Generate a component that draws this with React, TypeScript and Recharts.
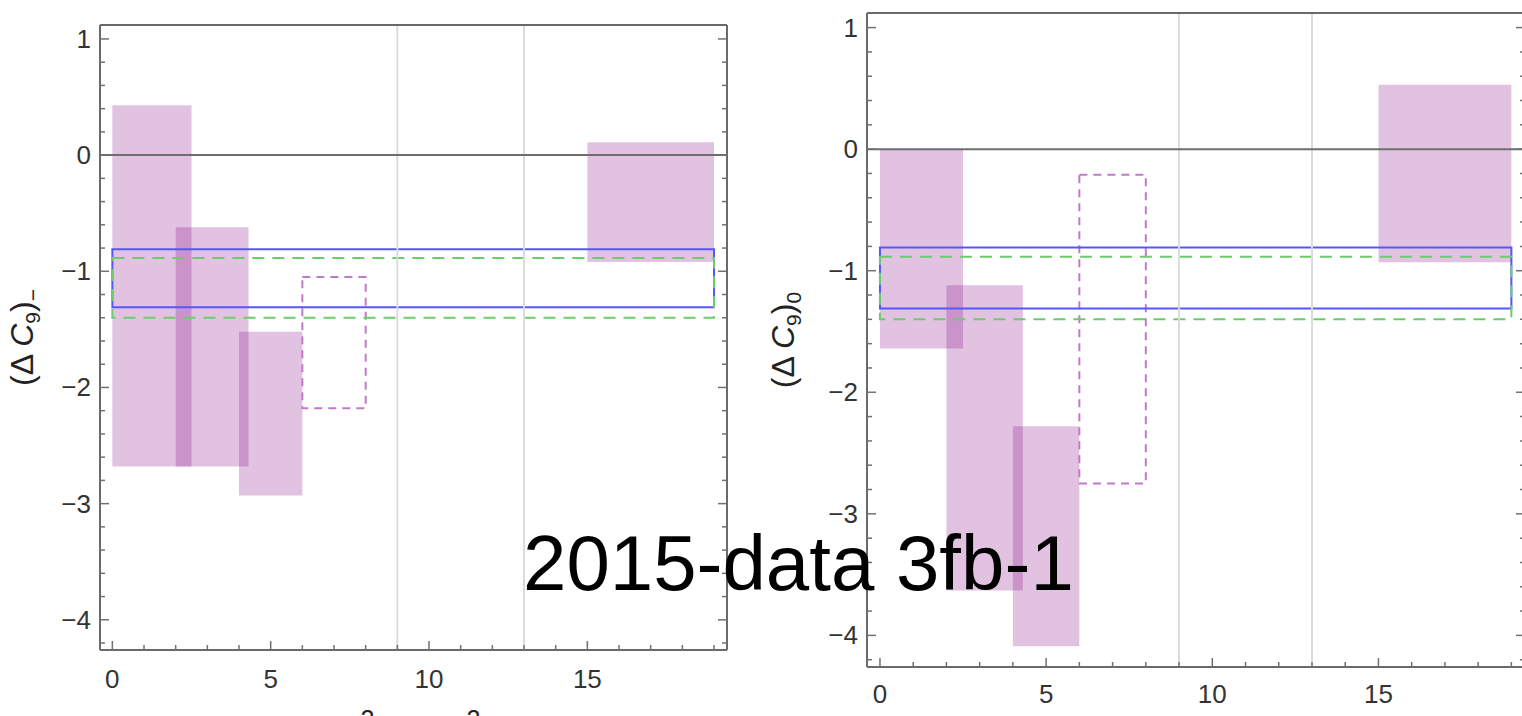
import React from "react";
import { ComposedChart, XAxis, YAxis, ReferenceArea, ReferenceLine } from "recharts";

// q² bins of the filled boxes
const BIN_LO = [0, 2, 4, 15];
const BIN_HI = [2.5, 4.3, 6, 19];

// (ΔC9)− panel
const MINUS_LO = [-2.68, -2.68, -2.93, -0.92];
const MINUS_HI = [0.43, -0.62, -1.52, 0.11];
// (ΔC9)0 panel
const ZERO_LO = [-1.64, -3.63, -4.09, -0.93];
const ZERO_HI = [0, -1.12, -2.28, 0.53];

// dashed bin [6, 8]
const DASHED_BIN = [6, 8];
const MINUS_DASHED = [-2.18, -1.05];
const ZERO_DASHED = [-2.75, -0.21];

// global fit bands
const FIT_BIN = [0, 19];
const FIT_BLUE = [-1.31, -0.81];
const FIT_GREEN = [-1.4, -0.885];

const GRID_X = [9, 13];
const X_TICKS = [0, 1, 2, 3, 4, 5, 6, 7, 8, 9, 10, 11, 12, 13, 14, 15, 16, 17, 18, 19];
const X_LABELS = [0, 5, 10, 15];
const Y_TICKS = [
  -4.2, -4, -3.8, -3.6, -3.4, -3.2, -3, -2.8, -2.6, -2.4, -2.2, -2, -1.8, -1.6, -1.4, -1.2,
  -1, -0.8, -0.6, -0.4, -0.2, 0, 0.2, 0.4, 0.6, 0.8, 1,
];
const Y_LABELS = [-4, -3, -2, -1, 0, 1];
const X_DOMAIN = [-0.39, 19.41];
const Y_DOMAIN = [-4.26, 1.12];

const FRAME = "#6a6a6a";
const TICK = "#707070";
const LABEL = "#333";
const FONT = "'Liberation Sans', Arial, Helvetica, sans-serif";

const inList = (v: number, list: number[]) => list.some((l) => Math.abs(l - v) < 1e-6);
const fmt = (v: number) => (v < 0 ? "\u2212" + Math.abs(v) : String(v));

function makeTicks(xLabelDy: number) {
  const left = (p: any) => {
    const major = inList(p.payload.value, Y_LABELS);
    const len = major ? 9 : 5;
    return (
      <g>
        <line x1={p.x} x2={p.x + len} y1={p.y} y2={p.y} stroke={TICK} strokeWidth={1.5} />
        {major && (
          <text x={p.x - 9} y={p.y + 9} textAnchor="end" fontSize={26} fontFamily={FONT} fill={LABEL}>
            {fmt(p.payload.value)}
          </text>
        )}
      </g>
    );
  };
  const right = (p: any) => {
    const major = inList(p.payload.value, Y_LABELS);
    const len = major ? 9 : 5;
    return <line x1={p.x} x2={p.x - len} y1={p.y} y2={p.y} stroke={TICK} strokeWidth={1.5} />;
  };
  const bottom = (p: any) => {
    const major = inList(p.payload.value, X_LABELS);
    const len = major ? 9 : 5;
    return (
      <g>
        <line x1={p.x} x2={p.x} y1={p.y} y2={p.y - len} stroke={TICK} strokeWidth={1.5} />
        {major && (
          <text x={p.x} y={p.y + xLabelDy} textAnchor="middle" fontSize={26} fontFamily={FONT} fill={LABEL}>
            {fmt(p.payload.value)}
          </text>
        )}
      </g>
    );
  };
  const top = (p: any) => {
    const major = inList(p.payload.value, X_LABELS);
    const len = major ? 9 : 5;
    return <line x1={p.x} x2={p.x} y1={p.y} y2={p.y + len} stroke={TICK} strokeWidth={1.5} />;
  };
  return { left, right, bottom, top };
}

function YTitle({ cx, cy, sub }: { cx: number; cy: number; sub: string }) {
  return (
    <text
      x={cx}
      y={cy}
      transform={`rotate(-90, ${cx}, ${cy})`}
      textAnchor="middle"
      dy={11}
      fontSize={32}
      fontFamily={FONT}
      fill="#222"
    >
      <tspan>(Δ </tspan>
      <tspan fontStyle="italic">C</tspan>
      <tspan fontSize={21} dy={7}>9</tspan>
      <tspan dy={-7}>)</tspan>
      <tspan fontSize={21} dy={7}>{sub}</tspan>
    </text>
  );
}

// only the tops of the superscripts show above the page edge
function XTitle({ cx, cy }: { cx: number; cy: number }) {
  return (
    <text x={cx} y={cy} textAnchor="middle" fontSize={36} fontFamily={FONT} fill="#222">
      <tspan fontStyle="italic">q</tspan>
      <tspan fontSize={25} dy={-18}>2</tspan>
      <tspan dy={18} dx={10}>[GeV</tspan>
      <tspan fontSize={25} dy={-18}>2</tspan>
      <tspan dy={18}>]</tspan>
    </text>
  );
}

type PanelProps = {
  left: number;
  width: number;
  topH: number;
  bottomH: number;
  leftW: number;
  rightW: number;
  labelX: number;
  xLabelDy: number;
  sub: string;
  lo: number[];
  hi: number[];
  dashed: number[];
  xTitle?: boolean;
};

function Panel(p: PanelProps) {
  const H = 716;
  const ticks = makeTicks(p.xLabelDy);
  const plotH = H - p.topH - p.bottomH;
  const plotL = p.leftW;
  const plotW = p.width - p.leftW - p.rightW;
  return (
    <div style={{ position: "absolute", left: p.left, top: 0 }}>
      <ComposedChart width={p.width} height={H} margin={{ top: 0, right: 0, bottom: 0, left: 0 }}>
        <XAxis
          type="number"
          dataKey="x"
          domain={X_DOMAIN}
          allowDataOverflow
          ticks={X_TICKS}
          interval={0}
          height={p.bottomH}
          tickSize={0}
          tickMargin={0}
          tickLine={false}
          tick={ticks.bottom}
          axisLine={{ stroke: FRAME, strokeWidth: 2 }}
          label={p.xTitle ? <XTitle cx={plotL + plotW / 2 + 2} cy={H + 30} /> : undefined}
        />
        <XAxis
          xAxisId="top"
          orientation="top"
          type="number"
          domain={X_DOMAIN}
          allowDataOverflow
          ticks={X_TICKS}
          interval={0}
          height={p.topH}
          tickSize={0}
          tickMargin={0}
          tickLine={false}
          tick={ticks.top}
          axisLine={{ stroke: FRAME, strokeWidth: 2 }}
        />
        <YAxis
          type="number"
          domain={Y_DOMAIN}
          allowDataOverflow
          ticks={Y_TICKS}
          interval={0}
          width={p.leftW}
          tickSize={0}
          tickMargin={0}
          tickLine={false}
          tick={ticks.left}
          axisLine={{ stroke: FRAME, strokeWidth: 2 }}
          label={<YTitle cx={p.labelX} cy={p.topH + plotH / 2} sub={p.sub} />}
        />
        <YAxis
          yAxisId="right"
          orientation="right"
          type="number"
          domain={Y_DOMAIN}
          allowDataOverflow
          ticks={Y_TICKS}
          interval={0}
          width={p.rightW}
          tickSize={0}
          tickMargin={0}
          tickLine={false}
          tick={ticks.right}
          axisLine={{ stroke: FRAME, strokeWidth: 2 }}
        />
        {GRID_X.map((g) => (
          <ReferenceLine key={"g" + g} x={g} stroke="#dcdcdc" strokeWidth={2} />
        ))}
        <ReferenceLine y={0} stroke="#6e6e6e" strokeWidth={2} />
        {BIN_LO.map((b, i) => (
          <ReferenceArea
            key={"bin" + i}
            x1={b}
            x2={BIN_HI[i]}
            y1={p.lo[i]}
            y2={p.hi[i]}
            fill="#800080"
            fillOpacity={0.24}
            stroke="none"
            ifOverflow="visible"
          />
        ))}
        <ReferenceArea
          x1={DASHED_BIN[0]}
          x2={DASHED_BIN[1]}
          y1={p.dashed[0]}
          y2={p.dashed[1]}
          fill="none"
          stroke="#c07ac8"
          strokeWidth={2}
          strokeDasharray="8 6"
          ifOverflow="visible"
        />
        <ReferenceArea
          x1={FIT_BIN[0]}
          x2={FIT_BIN[1]}
          y1={FIT_BLUE[0]}
          y2={FIT_BLUE[1]}
          fill="none"
          stroke="#5656ff"
          strokeWidth={2}
          ifOverflow="visible"
        />
        <ReferenceArea
          x1={FIT_BIN[0]}
          x2={FIT_BIN[1]}
          y1={FIT_GREEN[0]}
          y2={FIT_GREEN[1]}
          fill="none"
          stroke="#6ccc6c"
          strokeWidth={2}
          strokeDasharray="12 8"
          ifOverflow="visible"
        />
      </ComposedChart>
    </div>
  );
}

export default function App() {
  return (
    <div
      style={{
        position: "absolute",
        left: 0,
        top: 0,
        width: 1522,
        height: 716,
        overflow: "hidden",
        background: "#fff",
      }}
    >
      <Panel
        left={0}
        width={760}
        topH={25}
        bottomH={66}
        leftW={100}
        rightW={33}
        labelX={22}
        xLabelDy={38}
        sub={"\u2212"}
        lo={MINUS_LO}
        hi={MINUS_HI}
        dashed={MINUS_DASHED}
        xTitle
      />
      <Panel
        left={760}
        width={770}
        topH={13}
        bottomH={49}
        leftW={107}
        rightW={5}
        labelX={23}
        xLabelDy={36}
        sub="0"
        lo={ZERO_LO}
        hi={ZERO_HI}
        dashed={ZERO_DASHED}
      />
      <svg
        width={1522}
        height={716}
        style={{ position: "absolute", left: 0, top: 0, pointerEvents: "none" }}
      >
        <text x={523} y={590} fontSize={78} fontFamily={FONT} fill="#000">
          2015-data 3fb-1
        </text>
      </svg>
    </div>
  );
}
